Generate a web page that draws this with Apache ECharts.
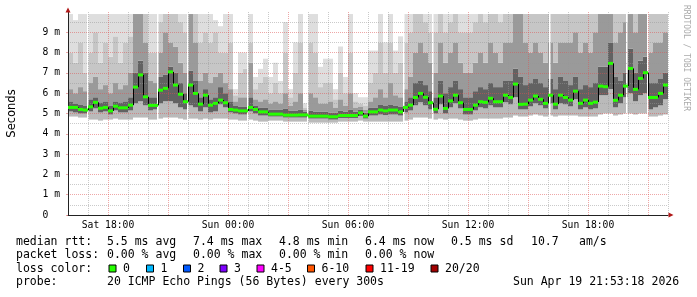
<!DOCTYPE html>
<html><head><meta charset="utf-8">
<script src="https://cdn.jsdelivr.net/npm/echarts@6/dist/echarts.min.js"></script>
<style>html,body{margin:0;padding:0;background:#fff}#c{width:697px;height:297px}</style>
</head><body><div id="c"></div>
<script>
// ---- data (values in ms, time in hours since Sat 00:00) ----
const sampleStartHour = 16;
const sampleStepHours = 0.25;
const med = [5.3,5.3,5.2,5.17,5.33,5.55,5.26,5.3,5.13,5.36,
5.28,5.28,5.41,6.3,6.9,5.82,5.4,5.4,6.15,6.24,
7.05,6.4,5.95,5.58,6.4,5.99,5.46,5.9,5.41,5.5,
5.66,5.53,5.2,5.17,5.13,5.13,5.3,5.2,5.08,5.08,
4.97,4.97,4.97,4.92,4.92,4.92,4.93,4.93,4.87,4.87,
4.87,4.87,4.84,4.84,4.9,4.9,4.9,4.9,5.03,4.87,
5.08,5.08,5.17,5.13,5.17,5.17,5.08,5.3,5.41,5.79,
5.99,5.8,5.53,5.21,5.86,5.25,5.62,5.9,5.53,5.2,
5.2,5.41,5.58,5.55,5.75,5.58,5.58,5.9,5.79,6.45,
5.45,5.46,5.66,5.86,5.7,5.5,5.9,5.46,5.9,5.79,
5.66,6.1,5.5,5.66,5.5,5.56,6.35,6.32,7.47,5.65,
5.9,6.35,7.22,6.19,6.73,7.01,5.79,5.79,5.99,6.4];
const lo = [4.85,4.85,4.8,4.8,4.7,4.7,4.65,4.7,4.7,4.75,
4.7,4.7,4.7,4.8,4.8,4.8,4.7,4.7,4.75,4.8,
4.8,4.8,4.75,4.7,4.75,4.75,4.7,4.75,4.7,4.75,
4.75,4.75,4.7,4.7,4.65,4.65,4.7,4.65,4.6,4.6,
4.65,4.65,4.65,4.6,4.6,4.6,4.6,4.6,4.55,4.55,
4.55,4.55,4.55,4.55,4.6,4.6,4.6,4.6,4.65,4.6,
4.6,4.6,4.6,4.6,4.6,4.6,4.6,4.65,4.7,4.8,
4.8,4.8,4.75,4.7,4.75,4.7,4.75,4.75,4.7,4.65,
4.65,4.7,4.75,4.75,4.75,4.75,4.75,4.8,4.8,4.9,
4.85,4.85,4.9,4.95,4.9,4.85,4.9,4.85,4.9,4.9,
4.9,4.9,4.85,4.85,4.85,4.85,4.95,5.0,5.0,4.9,
4.95,5.0,5.0,4.95,5.0,5.0,4.85,4.85,4.9,4.95];
const loDark = [5.1,5.05,5.0,5.0,5.1,5.25,5.05,5.1,4.95,5.15,
5.05,5.05,5.15,5.5,5.6,5.4,5.15,5.2,5.5,5.6,
5.6,5.5,5.3,5.2,5.4,5.3,5.1,5.3,5.05,5.1,
5.45,5.3,5.05,5.0,4.95,4.95,5.1,5.0,4.9,4.9,
4.85,4.85,4.85,4.8,4.8,4.8,4.8,4.8,4.75,4.75,
4.75,4.75,4.7,4.7,4.78,4.78,4.78,4.78,4.88,4.75,
4.9,4.9,4.95,4.92,4.95,4.95,4.9,5.05,5.15,5.4,
5.55,5.4,5.2,5.0,5.45,5.0,5.3,5.5,5.25,4.95,
4.95,5.15,5.3,5.25,5.4,5.3,5.3,5.55,5.45,5.8,
5.2,5.2,5.35,5.5,5.4,5.25,5.5,5.2,5.5,5.45,
5.35,5.7,5.2,5.3,5.2,5.25,5.9,5.9,6.2,5.3,
5.5,5.8,6.0,5.6,5.9,6.0,5.2,5.3,5.4,5.7];
const dark = [5.6,5.5,5.45,5.4,5.7,5.8,5.55,5.6,5.4,5.6,
5.55,5.6,5.8,7.0,7.6,7.0,5.8,5.8,6.8,6.9,
7.3,7.0,6.5,6.0,7.1,6.6,5.8,6.2,5.7,5.8,
6.3,6.0,5.6,5.4,5.35,5.35,5.8,5.4,5.3,5.3,
5.2,5.2,5.2,5.25,5.15,5.15,5.2,5.1,5.15,5.1,
5.1,5.1,5.05,5.05,5.15,5.1,5.2,5.1,5.2,5.05,
5.3,5.3,5.45,5.4,5.45,5.4,5.35,5.6,5.8,6.5,
6.6,6.4,6.1,5.8,6.6,6.0,6.3,6.6,6.2,5.8,
5.8,6.1,6.3,6.2,6.5,6.3,6.3,6.6,6.6,7.2,
6.8,6.4,6.5,6.7,6.5,6.3,6.7,6.2,6.8,6.6,
6.4,6.8,6.2,6.4,6.3,6.5,7.3,7.3,8.5,6.8,
6.6,7.0,8.2,7.0,7.6,7.8,6.5,6.5,6.7,7.0];
const mid = [6.2,6.0,6.3,6.1,6.5,6.8,6.2,6.4,6.0,6.5,
6.2,6.4,7.0,9.9,9.9,8.5,6.6,6.5,8.0,9.0,
8.5,8.3,7.5,7.0,9.9,8.5,6.6,7.0,6.5,6.8,
7.0,6.5,6.2,5.6,5.8,5.8,7.5,5.7,5.6,5.7,
5.5,5.6,5.5,6.0,5.4,5.6,6.0,5.2,6.0,5.8,
5.5,5.5,5.6,5.3,5.7,5.4,6.0,5.3,5.35,5.2,
5.6,5.8,6.2,5.8,6.5,5.9,5.8,6.2,6.8,8.0,
8.5,8.0,7.5,7.0,8.5,7.5,8.0,8.5,7.5,7.0,
7.0,7.5,8.0,7.5,8.5,8.0,7.5,8.5,8.5,9.9,
9.9,8.5,8.0,8.5,8.0,7.5,8.5,7.5,8.5,8.5,
8.5,9.0,8.0,8.5,8.0,9.0,9.9,9.9,9.9,8.5,
9.0,9.5,9.9,9.0,9.9,9.9,8.0,8.5,8.5,9.0];
const lite = [8.0,7.5,8.5,7.0,8.0,9.0,7.5,8.5,7.8,8.8,
7.5,8.5,8.8,9.9,9.9,9.9,8.0,8.0,9.5,9.9,
9.9,9.9,9.5,9.0,9.9,9.9,8.5,9.0,8.5,9.0,
8.0,8.0,8.5,5.9,7.0,7.2,8.5,6.2,6.5,6.8,
6.0,6.5,6.0,8.0,5.8,7.0,8.5,5.3,8.5,8.0,
6.3,6.5,6.5,5.7,7.0,6.0,8.0,5.6,5.5,5.4,
6.5,7.0,8.5,7.0,8.5,7.0,7.5,8.5,9.0,9.9,
9.9,9.5,9.0,9.0,9.9,9.0,9.5,9.9,9.0,9.0,
9.0,9.5,9.9,9.5,9.9,9.9,9.5,9.9,9.9,9.9,
9.9,9.9,9.9,9.9,9.9,9.9,9.9,9.9,9.9,9.9,
9.9,9.9,9.9,9.9,9.9,9.9,9.9,9.9,9.9,9.9,
9.9,9.9,9.9,9.9,9.9,9.9,9.9,9.9,9.9,9.9];
const hi = [9.9,9.6,9.9,9.9,9.9,9.9,9.9,9.9,9.9,9.9,
9.9,9.9,9.9,9.9,9.9,9.9,9.9,9.9,9.9,9.9,
9.9,9.9,9.9,9.9,9.9,9.9,9.9,9.9,9.9,9.6,
9.3,9.9,9.9,6.2,8.0,8.0,9.9,6.8,7.2,7.7,
6.8,7.5,6.6,9.5,6.2,8.5,9.9,5.5,9.9,9.9,
7.3,7.7,7.7,6.2,8.3,6.8,9.9,6.0,5.8,5.8,
8.1,8.1,9.9,8.5,9.9,8.1,8.8,9.9,9.9,9.9,
9.9,9.9,9.9,9.9,9.9,9.9,9.9,9.9,9.9,9.9,
9.9,9.9,9.9,9.9,9.9,9.9,9.9,9.9,9.9,9.9,
9.9,9.9,9.9,9.9,9.9,9.9,9.9,9.9,9.9,9.9,
9.9,9.9,9.9,9.9,9.9,9.9,9.9,9.9,9.9,9.9,
9.9,9.9,9.9,9.9,9.9,9.9,9.9,9.9,9.9,9.9];
const gapHours = [17.0, 20.5, 22.0, 25.0, 28.0, 32.8, 34.25, 40.1, 43.95, 45.0];
const xTickHours = [18, 24, 30, 36, 42];
const xTickLabels = ['Sat 18:00', 'Sun 00:00', 'Sun 06:00', 'Sun 12:00', 'Sun 18:00'];
const yTickValues = [0, 1, 2, 3, 4, 5, 6, 7, 8, 9];
const yTickLabels = ['0  ', '1 m', '2 m', '3 m', '4 m', '5 m', '6 m', '7 m', '8 m', '9 m'];
const lossLabels = ['0', '1', '2', '3', '4-5', '6-10', '11-19', '20/20'];
const lossColors = ['#26ff00', '#00b8ff', '#0059ff', '#7e00ff', '#ff00ff', '#ff5500', '#ff0000', '#a10000'];
const rttStats = ['5.5 ms avg', '7.4 ms max', '4.8 ms min', '6.4 ms now', '0.5 ms sd', '10.7', 'am/s'];
const lossStats = ['0.00 % avg', '0.00 % max', '0.00 % min', '0.00 % now'];
const probeText = '20 ICMP Echo Pings (56 Bytes) every 300s';
const dateText = 'Sun Apr 19 21:53:18 2026';

// ---- styling / layout ----
const MONO = '"DejaVu Sans Mono", monospace';
const smokeColors = ['#bababa', '#626262', '#9a9a9a', '#c6c6c6', '#dedede'];
const MGRID = 'rgba(222,79,79,0.5)';
const GRID = 'rgba(150,150,150,0.5)';
const ARROW = '#b01818';

const smokeData = med.map((m, i) => [sampleStartHour + i * sampleStepHours, sampleStartHour + (i + 1) * sampleStepHours,
  lo[i], loDark[i], dark[i], mid[i], lite[i], hi[i]]);
const medData = med.map((m, i) => [sampleStartHour + i * sampleStepHours, sampleStartHour + (i + 1) * sampleStepHours,
  m, i > 0 ? med[i - 1] : m]);

const chart = echarts.init(document.getElementById('c'), null, {renderer: 'canvas'});

const legendFont = '11.5px ' + MONO;
const rowY = [241.7, 255.3, 268.9, 282.5];
const rttX = [107, 193, 279, 365, 451, 531, 579];
const lossX = [107, 193, 279, 365];
const boxX = [108.5, 146, 183, 219.5, 256.5, 307, 365.5, 430.5];
const graphics = [];
function txt(text, x, y, font, fill) {
  graphics.push({type: 'text', x: x, y: y, z: 20, silent: true,
    style: {text: text, font: font || legendFont, fill: fill || '#000', align: 'left', verticalAlign: 'middle'}});
}
txt('median rtt:', 16, rowY[0]);
rttStats.forEach((s, i) => txt(s, rttX[i], rowY[0]));
txt('packet loss:', 16, rowY[1]);
lossStats.forEach((s, i) => txt(s, lossX[i], rowY[1]));
txt('loss color:', 16, rowY[2]);
lossLabels.forEach((s, i) => {
  graphics.push({type: 'rect', z: 20, silent: true, shape: {x: boxX[i] + 0.5, y: 265, width: 7, height: 7},
    style: {fill: lossColors[i], stroke: '#000', lineWidth: 1}});
  txt(s, boxX[i] + 14.5, rowY[2]);
});
txt('probe:', 16, rowY[3]);
txt(probeText, 107, rowY[3]);
txt(dateText, 513, rowY[3]);
graphics.push({type: 'text', x: 686.5, y: 5, rotation: -Math.PI / 2, z: 20, silent: true,
  style: {text: 'RRDTOOL / TOBI OETIKER', font: '8px ' + MONO, fill: '#aaaaaa', align: 'left', verticalAlign: 'middle'}});

const option = {
  animation: false,
  backgroundColor: '#ffffff',
  grid: {left: 68, right: 29, top: 12, bottom: 82, containLabel: false, outerBoundsMode: 'none'},
  xAxis: [{
    type: 'value', min: 16, max: 46, interval: 1, z: 5,
    axisLine: {show: true, onZero: false, lineStyle: {color: '#222', width: 1}},
    axisTick: {show: false},
    axisLabel: {customValues: xTickHours, margin: 5, fontFamily: MONO, fontSize: 9.7, color: '#000',
      formatter: v => { const k = xTickHours.indexOf(v); return k >= 0 ? xTickLabels[k] : ''; }},
    splitLine: {show: true, lineStyle: {color: [GRID, GRID, MGRID], type: [1, 1], width: 1}}
  }, {
    type: 'value', min: 16, max: 46, position: 'bottom', offset: 0, z: 6,
    axisLine: {show: true, onZero: false, symbol: ['none', 'triangle'], symbolSize: [5, 5], symbolOffset: [0, 3],
      lineStyle: {color: ARROW, width: 1, opacity: 0}},
    axisTick: {show: false}, axisLabel: {show: false}, splitLine: {show: false}
  }],
  yAxis: [{
    type: 'value', min: 0, max: 10, interval: 1, z: 5,
    axisLine: {show: true, onZero: false, lineStyle: {color: '#222', width: 1}},
    axisTick: {show: true, length: 2, lineStyle: {color: MGRID}},
    axisLabel: {showMaxLabel: false, margin: 8, fontFamily: MONO, fontSize: 9.7, color: '#000',
      formatter: v => { const k = yTickValues.indexOf(v); return k >= 0 ? yTickLabels[k] : ''; }},
    splitLine: {show: true, showMaxLine: false, lineStyle: {color: MGRID, type: [1, 1], width: 1}},
    minorTick: {show: false, splitNumber: 2},
    minorSplitLine: {show: true, lineStyle: {color: GRID, type: [1, 1], width: 1}},
    name: 'Seconds', nameLocation: 'middle', nameGap: 50,
    nameTextStyle: {fontFamily: '"DejaVu Sans", sans-serif', fontSize: 11.5, color: '#000'}
  }, {
    type: 'value', min: 0, max: 10, position: 'left', offset: 0, z: 6,
    axisLine: {show: true, onZero: false, symbol: ['none', 'triangle'], symbolSize: [5, 5], symbolOffset: [0, 2],
      lineStyle: {color: ARROW, width: 1, opacity: 0}},
    axisTick: {show: false}, axisLabel: {show: false}, splitLine: {show: false}
  }],
  series: [{
    type: 'custom', name: 'smoke', z: 1, silent: true, clip: true,
    encode: {x: [0, 1], y: [2, 3, 4, 5, 6, 7]},
    data: smokeData,
    renderItem: function (params, api) {
      const xa = api.value(0), xb = api.value(1);
      const children = [];
      for (let k = 0; k < 5; k++) {
        const a = api.coord([xa, api.value(2 + k)]);
        const b = api.coord([xb, api.value(3 + k)]);
        children.push({type: 'rect', shape: {x: a[0], y: b[1], width: b[0] - a[0], height: a[1] - b[1]},
          style: {fill: smokeColors[k]}});
      }
      return {type: 'group', children: children};
    }
  }, {
    type: 'custom', name: 'gaps', z: 1, silent: true,
    encode: {x: 0},
    data: gapHours.map(h => [h]),
    renderItem: function (params, api) {
      const a = api.coord([api.value(0), 10]);
      const b = api.coord([api.value(0), 4.4]);
      return {type: 'rect', shape: {x: Math.round(a[0]) - 1, y: a[1], width: 1.5, height: b[1] - a[1]},
        style: {fill: '#ffffff'}};
    }
  }, {
    type: 'custom', name: 'median', z: 8, silent: true,
    encode: {x: [0, 1], y: [2]},
    data: medData,
    renderItem: function (params, api) {
      const a = api.coord([api.value(0), api.value(2)]);
      const b = api.coord([api.value(1), api.value(2)]);
      const p = api.coord([api.value(0), api.value(3)]);
      return {type: 'group', children: [
        {type: 'line', shape: {x1: a[0] + 0.5, y1: p[1], x2: a[0] + 0.5, y2: a[1]}, style: {stroke: '#000', lineWidth: 1}},
        {type: 'rect', shape: {x: a[0], y: a[1] - 1.5, width: b[0] - a[0], height: 3}, style: {fill: '#26ff00'}}
      ]};
    }
  }],
  graphic: graphics
};
chart.setOption(option);
</script></body></html>
